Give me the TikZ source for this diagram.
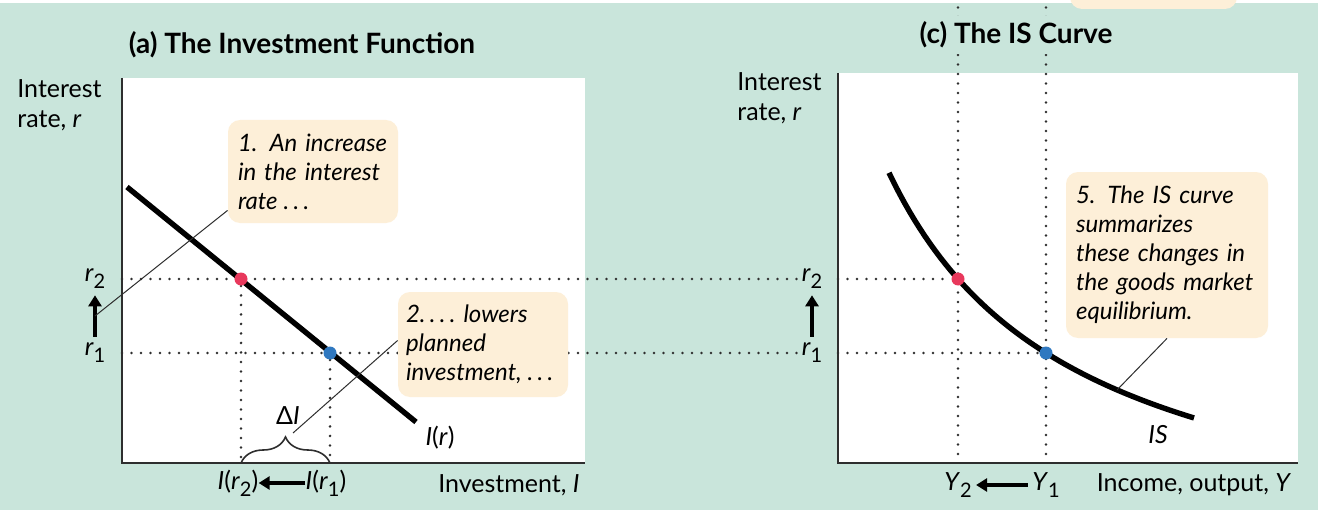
\documentclass[tikz,border=0pt]{standalone}
\usepackage{fontspec}
\setmainfont{Lato}
\usepackage{xcolor}
\definecolor{bg}{HTML}{C9E5DB}
\definecolor{peach}{HTML}{FDEFD8}
\definecolor{ink}{HTML}{2E2E2E}
\definecolor{ptred}{HTML}{E8385C}
\definecolor{ptblue}{HTML}{2F78C0}
\usetikzlibrary{arrows.meta,positioning,calc,decorations.pathreplacing}
\newcommand{\vsub}[2]{\textit{#1}\raisebox{-0.55ex}{\fontsize{10}{10}\selectfont #2}}
\newcommand{\ddd}{.\kern2.2pt.\kern2.2pt.}
\tikzset{
  >={Triangle[length=5.5pt,width=6.5pt]},
  axisline/.style={draw=ink,line width=1.3pt},
  dotline/.style={draw=ink,line width=1.4pt,line cap=round,dash pattern=on 0pt off 4.75pt},
  thickline/.style={draw=black,line width=2.7pt},
  leader/.style={draw=ink,line width=0.5pt},
  bigarrow/.style={->,draw=black,line width=2pt},
  dot/.style={circle,inner sep=0pt,minimum size=6.5pt},
  notebox/.style={fill=peach,rounded corners=6pt,align=left,inner xsep=5pt,inner ysep=0pt,
    font=\itshape\fontsize{12}{14.5}\selectfont},
  lbl/.style={inner sep=0pt,font=\fontsize{12.5}{15}\selectfont},
  ttl/.style={inner sep=3pt,font=\bfseries\fontsize{14}{16}\selectfont},
}

\begin{document}
\begin{tikzpicture}[x=0.5pt,y=0.5pt]
\useasboundingbox (0,0) rectangle (1318,510);
\fill[bg] (0,0) rectangle (1318,510);
\fill[white] (0,507) rectangle (1318,510);
\begin{scope}
  \clip (0,0) rectangle (1318,510);
  \fill[peach,rounded corners=6pt] (1070,501) rectangle (1237,540);
\end{scope}

% panels
\coordinate (oA) at (122,47);
\coordinate (oC) at (838,47);
\coordinate (top) at (0,512);
\fill[white] (oA) rectangle (585,432);
\fill[white] (oC) rectangle (1298,437);

% points on the curves
\node[dot] (pA2) at (241,231) {};
\node[dot] (pA1) at (330,157) {};
\node[dot] (pC2) at (958,231) {};
\node[dot] (pC1) at (1046,157) {};
\coordinate (onIS) at (1117,120);

% r labels
\node[lbl] (r2A) at (95,231) {\vsub{r}{2}};
\node[lbl] (r1A) at (95,157) {\vsub{r}{1}};
\node[lbl] (r2C) at (812,231) {\vsub{r}{2}};
\node[lbl] (r1C) at (812,157) {\vsub{r}{1}};

% dotted guides
\draw[dotline] (oA |- pA2) -- (r2C.west);
\draw[dotline] (oC |- pC2) -- (pC2);
\draw[dotline] (oA |- pA1) -- (r1C.west);
\draw[dotline] (oC |- pC1) -- (pC1);
\draw[dotline] (pA2) -- (pA2 |- oA);
\draw[dotline] (pA1) -- (pA1 |- oA);
\draw[dotline] (pC2 |- top) -- (pC2 |- oC);
\draw[dotline] (pC1 |- top) -- (pC1 |- oC);

% titles
\node[ttl] (titleA) at (302,465) {(a) The Investment Function};
\node[ttl,fill=bg] (titleC) at (1016,475) {(c) The IS Curve};

% axes
\draw[axisline] (122,432) -- (oA) -- (585,47);
\draw[axisline] (838,437) -- (oC) -- (1298,47);
\node[lbl,anchor=west,align=left] (yA) at (17,405) {Interest\\rate, \textit{r}};
\node[lbl,anchor=west,align=left] (yC) at (737,412) {Interest\\rate, \textit{r}};

% investment function and IS curve
\draw[thickline] (127,323) -- (416,88);
\draw[thickline] plot[domain=889:1194,samples=60] (\x,{-59.9+750.6/((\x-700)/100)});
\fill[ptred] (pA2) circle (6.5);
\fill[ptblue] (pA1) circle (6.5);
\fill[ptred] (pC2) circle (6.5);
\fill[ptblue] (pC1) circle (6.5);
\node[lbl] (Ir) at (440,72) {\textit{I}(\textit{r})};
\node[lbl] (IS) at (1158,75) {\textit{IS}};

% brace
\draw[leader,line width=0.8pt,decorate,decoration={brace,amplitude=13pt}] (pA2 |- oA) -- (pA1 |- oA);
\node[lbl] (dI) at (288,94) {Δ\textit{I}};
\coordinate (tipI) at (293,77);

% shift arrows
\draw[bigarrow] ([yshift=3pt]r1A.north) -- ([yshift=-3pt]r2A.south);
\draw[bigarrow] ([yshift=3pt]r1C.north) -- ([yshift=-3pt]r2C.south);
\node[lbl] (Ir2) at (238,27) {\textit{I}(\vsub{r}{2})};
\node[lbl] (Ir1) at (326,27) {\textit{I}(\vsub{r}{1})};
\draw[bigarrow] (Ir1.west) -- (Ir2.east);
\node[lbl] (Y2) at (958,25) {\vsub{Y}{2}};
\node[lbl] (Y1) at (1046,25) {\vsub{Y}{1}};
\draw[bigarrow] ([xshift=-2pt]Y1.west) -- ([xshift=2pt]Y2.east);
\node[lbl] (xA) at (509,25) {Investment, \textit{I}};
\node[lbl] (xC) at (1194,25) {Income, output, \textit{Y}};

% notes
\node[notebox,minimum width=85pt,minimum height=51.5pt,text width=75pt] (box1) at (313,338.5)
  {1. An increase\\in the interest\\rate\kern3pt\ddd};
\node[notebox,minimum width=85pt,minimum height=52.5pt,text width=77pt,inner xsep=4pt] (box2) at (483,165.5)
  {2.\kern2.2pt\ddd\ lowers\\planned\\investment,\kern3pt\ddd};
\node[notebox,minimum width=101pt,minimum height=83pt,text width=91pt] (box5) at (1167,255)
  {5. The IS curve\\summarizes\\these changes in\\the goods market\\equilibrium.};
\draw[leader] ($(box1.south west)+(0,13)$) -- ($(r1A.north)!0.5!(r2A.south)$);
\draw[leader] ($(box2.west)+(0,4)$) -- (tipI);
\draw[leader] (onIS) -- (box5.south);
\end{tikzpicture}
\end{document}
